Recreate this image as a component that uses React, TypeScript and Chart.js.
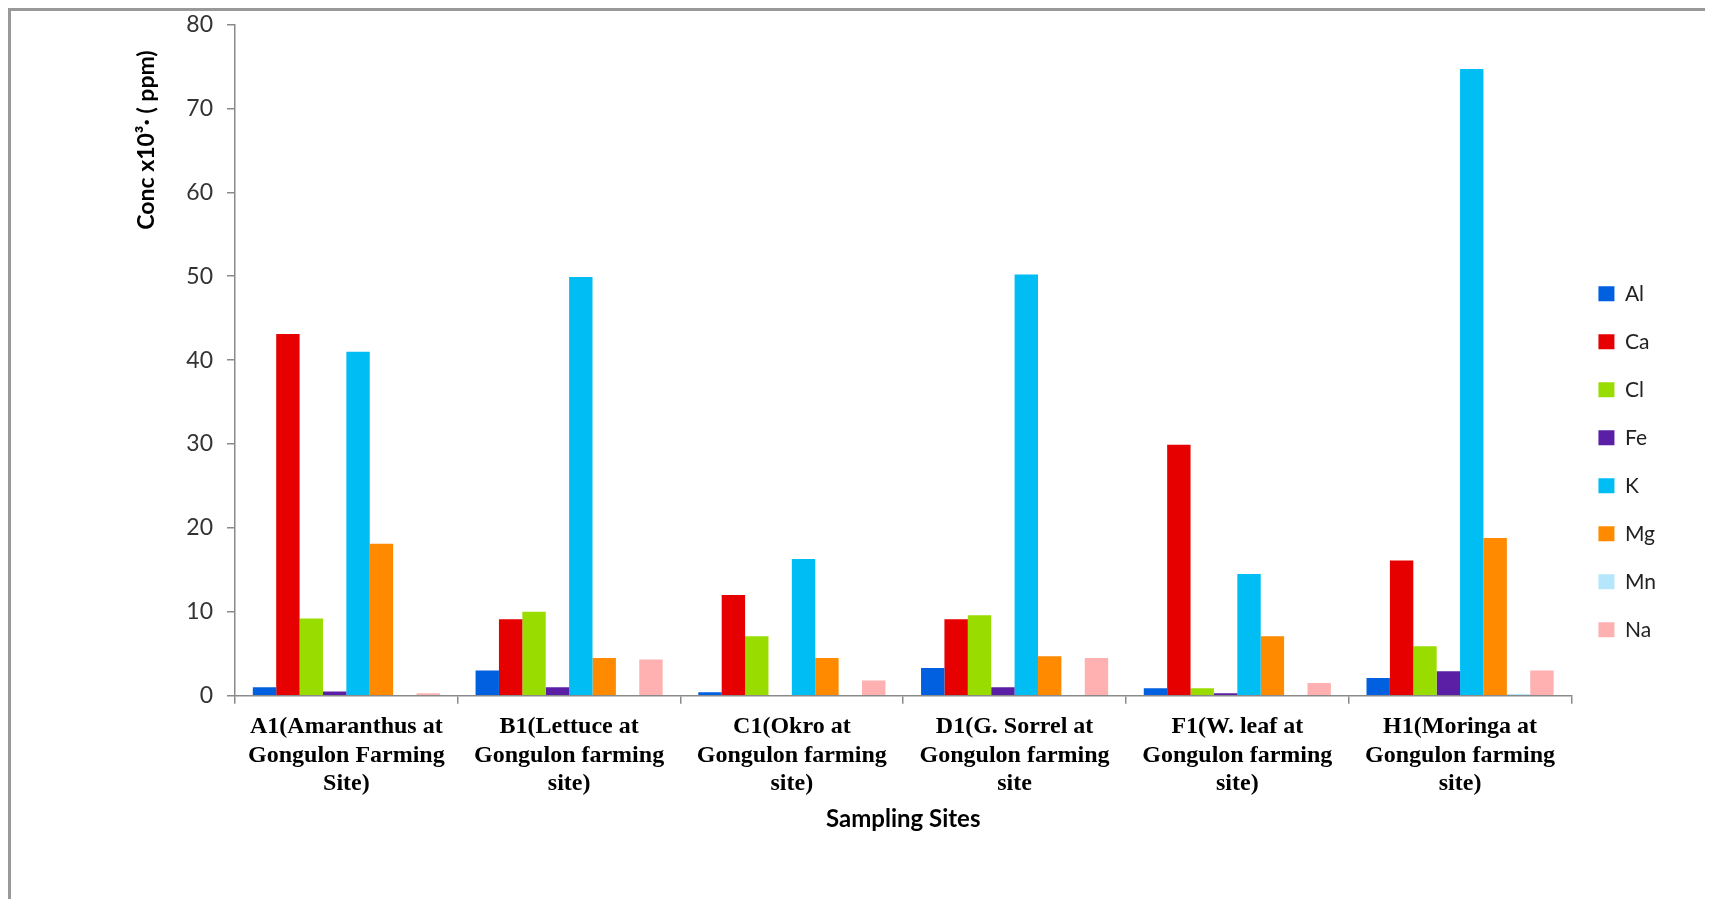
import React, { useEffect, useRef } from "react";
import { Chart, registerables } from "chart.js";

Chart.register(...registerables);

// ---------- data ----------
const categories: string[][] = [
  ["A1(Amaranthus at", "Gongulon Farming", "Site)"],
  ["B1(Lettuce at", "Gongulon farming", "site)"],
  ["C1(Okro at", "Gongulon farming", "site)"],
  ["D1(G. Sorrel at", "Gongulon farming", "site"],
  ["F1(W. leaf at", "Gongulon farming", "site)"],
  ["H1(Moringa at", "Gongulon farming", "site)"],
];

const seriesNames = ["Al", "Ca", "Cl", "Fe", "K", "Mg", "Mn", "Na"];

const alValues = [1.0, 3.0, 0.4, 3.3, 0.9, 2.1];
const caValues = [43.1, 9.1, 12.0, 9.1, 29.9, 16.1];
const clValues = [9.2, 10.0, 7.1, 9.6, 0.9, 5.9];
const feValues = [0.5, 1.0, 0, 1.0, 0.3, 2.9];
const kValues = [41.0, 49.9, 16.3, 50.2, 14.5, 74.7];
const mgValues = [18.1, 4.5, 4.5, 4.7, 7.1, 18.8];
const mnValues = [0, 0, 0, 0, 0, 0.2];
const naValues = [0.3, 4.3, 1.8, 4.5, 1.5, 3.0];

const seriesColors = [
  "#0060DF",
  "#E60000",
  "#99DD00",
  "#5B1FA6",
  "#00BDF4",
  "#FF8A00",
  "#B5E6FB",
  "#FFB0B0",
];

const yTicks = [0, 10, 20, 30, 40, 50, 60, 70, 80];
const xTitle = "Sampling Sites";
const yTitle = "Conc x10\u00B3\u00B7 ( ppm)";

export default function App() {
  const canvasRef = useRef<HTMLCanvasElement>(null);

  useEffect(() => {
    if (!canvasRef.current) return;
    const allValues = [alValues, caValues, clValues, feValues, kValues, mgValues, mnValues, naValues];

    const titlesPlugin = {
      id: "axisTitles",
      afterDraw(chart: any) {
        const { ctx, chartArea } = chart;
        ctx.save();
        ctx.fillStyle = "#000";
        ctx.textAlign = "center";
        ctx.textBaseline = "middle";
        ctx.font = "bold 24px Lato";
        ctx.fillText(xTitle, (chartArea.left + chartArea.right) / 2, chartArea.bottom + 124);
        ctx.font = "bold 23px Lato";
        ctx.translate(136, 129);
        ctx.rotate(-Math.PI / 2);
        ctx.fillText(yTitle, 0, 0);
        ctx.restore();
      },
    };

    const axisColor = "#8a8a8a";

    const chart = new Chart(canvasRef.current, {
      type: "bar",
      data: {
        labels: categories,
        datasets: seriesNames.map((name, i) => ({
          label: name,
          data: allValues[i],
          backgroundColor: seriesColors[i],
          borderWidth: 0,
          barPercentage: 1.0,
          categoryPercentage: 0.84,
        })),
      },
      options: {
        animation: false,
        responsive: true,
        maintainAspectRatio: false,
        layout: { padding: { top: 13.5, right: 47, bottom: 0, left: 0 } },
        plugins: {
          tooltip: { enabled: false },
          title: { display: false },
          legend: {
            position: "right",
            align: "center",
            labels: {
              boxWidth: 16,
              boxHeight: 15,
              padding: 27,
              color: "#222",
              font: { family: "Lato", size: 21 },
            },
          },
        },
        scales: {
          x: {
            grid: {
              display: true,
              drawOnChartArea: false,
              drawTicks: true,
              offset: true,
              tickLength: 8,
              color: axisColor,
              lineWidth: 1.5,
            },
            border: { display: true, color: axisColor, width: 1.5 },
            ticks: {
              autoSkip: false,
              maxRotation: 0,
              minRotation: 0,
              padding: 9,
              color: "#000",
              font: { family: '"Liberation Serif", serif', size: 24, weight: "bold", lineHeight: 1.19 },
            },
            afterFit: (s: any) => {
              s.height = 203.3;
            },
          },
          y: {
            min: 0,
            max: 80,
            afterBuildTicks: (s: any) => {
              s.ticks = yTicks.map((v) => ({ value: v }));
            },
            grid: {
              display: true,
              drawOnChartArea: false,
              drawTicks: true,
              tickLength: 8,
              color: axisColor,
              lineWidth: 1.5,
            },
            border: { display: true, color: axisColor, width: 1.5 },
            ticks: {
              padding: 14,
              color: "#333",
              font: { family: "Lato", size: 23 },
            },
            afterFit: (s: any) => {
              s.width = 224;
              s.paddingTop = 0;
              s.paddingBottom = 0;
            },
          },
        },
      },
      plugins: [titlesPlugin],
    });

    return () => chart.destroy();
  }, []);

  return (
    <div
      style={{
        width: 1705,
        height: 891,
        boxSizing: "border-box",
        borderTop: "3px solid #999",
        borderLeft: "3px solid #999",
        background: "#fff",
      }}
    >
      <div style={{ position: "relative", width: 1702, height: 888 }}>
        <canvas ref={canvasRef} />
      </div>
    </div>
  );
}
